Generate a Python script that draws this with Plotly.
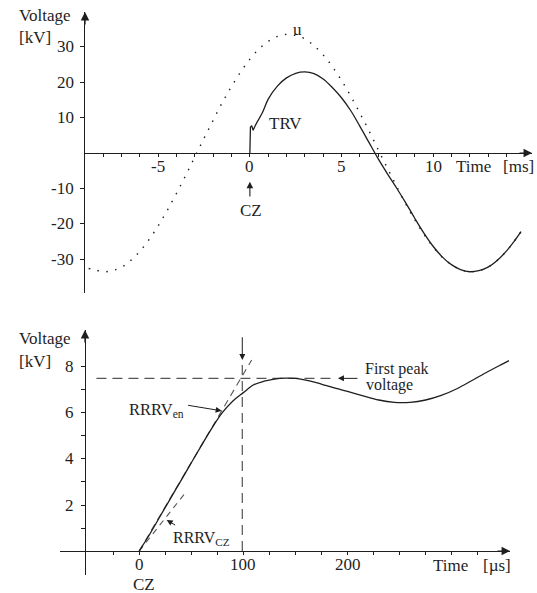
import plotly.graph_objects as go

# ---- upper panel: power-frequency voltage u and the TRV (time in ms, voltage in kV)
t_u_ms = [-8.8, -8.5, -8.0, -7.5, -7.0, -6.5, -6.0, -5.5, -5.0, -4.5, -4.0, -3.5,
          -3.0, -2.5, -2.0, -1.5, -1.0, -0.5, 0.0, 0.5, 1.0, 1.5, 2.0, 2.5, 3.0,
          3.5, 4.0, 4.5, 5.0, 5.5, 6.0, 6.5, 7.0, 7.5, 8.0, 8.5, 9.0, 9.5, 10.0,
          10.5, 11.0, 11.5, 12.0, 12.5, 13.0, 13.5, 14.0, 14.5, 14.8]
u_kv = [-32.6, -32.9, -33.5, -33.2, -32.2, -30.3, -27.7, -24.4, -20.5, -16.1, -11.3, -6.3,
        -1.0, 4.2, 9.3, 14.3, 18.8, 22.9, 26.5, 29.4, 31.5, 32.9, 33.5, 33.2, 32.2,
        30.3, 27.7, 24.4, 20.5, 16.1, 11.3, 6.3, 1.0, -4.2, -9.3, -14.3, -18.8, -22.9, -26.5,
        -29.4, -31.5, -32.9, -33.5, -33.2, -32.2, -30.3, -27.7, -24.4, -22.2]

t_trv_ms = [0.0, 0.03, 0.1, 0.18, 0.27, 0.4, 0.7, 1.0, 1.5, 2.0, 2.5, 3.0, 3.5, 4.0,
            4.5, 5.0, 5.5, 6.0, 6.5, 7.0, 7.5, 8.0, 8.5, 9.0, 9.5, 10.0, 10.5, 11.0,
            11.5, 12.0, 12.5, 13.0, 13.5, 14.0, 14.5, 14.8]
trv_kv = [0.0, 7.3, 7.7, 6.4, 7.5, 8.8, 11.6, 15.2, 18.9, 21.2, 22.5, 22.9, 22.4, 20.9,
          18.5, 15.6, 12.0, 7.6, 3.0, -1.6, -5.8, -9.8, -14.0, -18.4, -22.6, -26.3, -29.3,
          -31.5, -32.9, -33.5, -33.2, -32.2, -30.3, -27.7, -24.4, -22.2]
n_wiggle = 6  # points of the step and ripple right after current zero

# ---- lower panel: initial TRV (time in µs, voltage in kV)
t_us = [0, 10, 20, 30, 40, 50, 60, 70, 80, 90, 100, 110, 120, 130, 140, 150, 160,
        170, 180, 190, 200, 215, 230, 245, 260, 275, 290, 305, 320, 335, 350, 355]
trv_us_kv = [0.0, 0.72, 1.5, 2.28, 3.05, 3.83, 4.6, 5.35, 6.02, 6.52, 6.88, 7.22, 7.38,
             7.47, 7.51, 7.5, 7.42, 7.31, 7.18, 7.05, 6.93, 6.74, 6.56, 6.46, 6.46, 6.56,
             6.76, 7.05, 7.42, 7.8, 8.15, 8.27]

first_peak_kv = 7.5
first_peak_line_t = [-41, 185]
t_marker_us = 99
t_marker_kv = [0, 8.3]
rrrv_en_t = [0, 108]
rrrv_en_kv = [0, 8.3]
rrrv_cz_t = [0, 43.5]
rrrv_cz_kv = [0, 2.48]

# ---- ticks and tick labels
top_xticks = list(range(-8, 15))
top_xlabels = {-5: "-5", 0: "0", 5: "5", 10: "10"}
top_yticks = [-30, -20, -10, 10, 20, 30]
top_ylabels = {-30: "-30", -20: "-20", -10: "-10", 10: "10", 20: "20", 30: "30"}
bot_xticks = list(range(-25, 326, 25))
bot_xlabels = {0: "0", 100: "100", 200: "200"}
bot_yticks = [1, 2, 3, 4, 5, 6, 7, 8]
bot_ylabels = {2: "2", 4: "4", 6: "6", 8: "8"}

W, H = 537, 593
FONT = "Liberation Serif, Times New Roman, serif"
INK = "#1e1e1e"
DASH_C = "#555555"


def fx(px):
    return px / W


def fy(py):
    return 1 - py / H


def at_value(dom, rng, v):
    return dom[0] + (v - rng[0]) / (rng[1] - rng[0]) * (dom[1] - dom[0])


top_xdom, top_xr = [fx(85), fx(532)], [-9.0, 15.4]
top_ydom, top_yr = [fy(293), fy(12)], [-39.5, 39.8]
bot_xdom, bot_xr = [fx(60), fx(510)], [-76.0, 356.0]
bot_ydom, bot_yr = [fy(575), fy(330)], [-1.04, 9.6]

fig = go.Figure()

# upper panel curves
fig.add_trace(go.Scatter(x=t_u_ms, y=u_kv, mode="lines", line_shape="spline",
                         line=dict(color=INK, width=1.4, dash="1.5px,7.5px"),
                         xaxis="x", yaxis="y"))
fig.add_trace(go.Scatter(x=t_trv_ms[:n_wiggle], y=trv_kv[:n_wiggle], mode="lines",
                         line=dict(color=INK, width=1.3), xaxis="x", yaxis="y"))
fig.add_trace(go.Scatter(x=t_trv_ms[n_wiggle - 1:], y=trv_kv[n_wiggle - 1:], mode="lines",
                         line_shape="spline", line=dict(color=INK, width=1.3),
                         xaxis="x", yaxis="y"))

# lower panel: construction lines then the TRV curve
dash_style = dict(color=DASH_C, width=1.2, dash="10px,6px")
fig.add_trace(go.Scatter(x=first_peak_line_t, y=[first_peak_kv, first_peak_kv], mode="lines",
                         line=dash_style, xaxis="x2", yaxis="y2"))
fig.add_trace(go.Scatter(x=[t_marker_us, t_marker_us], y=t_marker_kv, mode="lines",
                         line=dash_style, xaxis="x2", yaxis="y2"))
fig.add_trace(go.Scatter(x=rrrv_en_t, y=rrrv_en_kv, mode="lines",
                         line=dict(color=DASH_C, width=1.1, dash="7px,5px"),
                         xaxis="x2", yaxis="y2"))
fig.add_trace(go.Scatter(x=rrrv_cz_t, y=rrrv_cz_kv, mode="lines",
                         line=dict(color=DASH_C, width=1.1, dash="6px,5px"),
                         xaxis="x2", yaxis="y2"))
fig.add_trace(go.Scatter(x=t_us, y=trv_us_kv, mode="lines", line_shape="spline",
                         line=dict(color=INK, width=1.3), xaxis="x2", yaxis="y2"))

axis_common = dict(showgrid=False, zeroline=False, showline=True, linecolor=INK,
                   linewidth=1.3, ticks="outside", tickcolor=INK, tickwidth=1,
                   showticklabels=False, fixedrange=True)

top_xpos = at_value(top_ydom, top_yr, 0)
bot_xpos = at_value(bot_ydom, bot_yr, 0)
bot_ypos = at_value(bot_xdom, bot_xr, -52)

fig.update_layout(
    width=W, height=H, margin=dict(l=0, r=0, t=0, b=0),
    paper_bgcolor="white", plot_bgcolor="white", showlegend=False,
    xaxis=dict(domain=top_xdom, range=top_xr, anchor="free", position=top_xpos,
               tickmode="array", tickvals=top_xticks, ticklen=3, **axis_common),
    yaxis=dict(domain=top_ydom, range=top_yr, anchor="x",
               tickmode="array", tickvals=top_yticks, ticklen=4, **axis_common),
    xaxis2=dict(domain=bot_xdom, range=bot_xr, anchor="free", position=bot_xpos,
                tickmode="array", tickvals=bot_xticks, ticklen=3, **axis_common),
    yaxis2=dict(domain=bot_ydom, range=bot_yr, anchor="free", position=bot_ypos,
                tickmode="array", tickvals=bot_yticks, ticklen=4, **axis_common),
)

ann = []
font17 = dict(family=FONT, size=17, color=INK)


def text_px(s, x, y, size=17, xanchor="center"):
    ann.append(dict(text=s, x=fx(x), y=fy(y), xref="paper", yref="paper",
                    xanchor=xanchor, yanchor="middle", showarrow=False,
                    font=dict(family=FONT, size=size, color=INK)))


def arrow_data(xr, yr, tip, tail, width=1.1, size=1.2, color=INK):
    ann.append(dict(text="", x=tip[0], y=tip[1], ax=tail[0], ay=tail[1],
                    xref=xr, yref=yr, axref=xr, ayref=yr, showarrow=True,
                    arrowhead=2, arrowsize=size, arrowwidth=width, arrowcolor=color,
                    standoff=0, startstandoff=0))


def arrow_paper(tip_px, dx, dy):
    ann.append(dict(text="", x=fx(tip_px[0]), y=fy(tip_px[1]), ax=dx, ay=dy,
                    xref="paper", yref="paper", showarrow=True, arrowhead=2,
                    arrowsize=1.3, arrowwidth=1.3, arrowcolor=INK, standoff=0))


# tick labels placed on the axes' own scales
for v, s in top_xlabels.items():
    ann.append(dict(text=s, x=v, y=fy(167), xref="x", yref="paper", showarrow=False,
                    xanchor="center", yanchor="middle", font=font17))
for v, s in top_ylabels.items():
    ann.append(dict(text=s, x=fx(76), y=v, xref="paper", yref="y", showarrow=False,
                    xanchor="right", yanchor="middle", font=font17))
for v, s in bot_xlabels.items():
    ann.append(dict(text=s, x=v, y=fy(564), xref="x2", yref="paper", showarrow=False,
                    xanchor="center", yanchor="middle", font=font17))
for v, s in bot_ylabels.items():
    ann.append(dict(text=s, x=fx(76), y=v, xref="paper", yref="y2", showarrow=False,
                    xanchor="right", yanchor="middle", font=font17))

# axis end arrows
arrow_paper((85, 12), 0, 14)
arrow_paper((532, (1 - top_xpos) * H), -14, 0)
arrow_paper((85, 330), 0, 14)
arrow_paper((510, (1 - bot_xpos) * H), -14, 0)

# upper panel labels
text_px("Voltage", 17, 16, xanchor="left")
text_px("[kV]", 17, 37, xanchor="left")
text_px("u", 297, 29)
text_px("TRV", 285, 123)
text_px("Time", 473, 167)
text_px("[ms]", 518, 167)
text_px("CZ", 251, 210)
arrow_data("x", "y", (0, -8.1), (0, -12.7))

# lower panel labels
text_px("Voltage", 17, 338, xanchor="left")
text_px("[kV]", 17, 361, xanchor="left")
text_px("RRRV<sub>en</sub>", 127, 410, size=16.5, xanchor="left")
arrow_data("x2", "y2", (79.2, 6.09), (45.6, 6.34), width=1.0)
text_px("RRRV<sub>CZ</sub>", 171, 538, size=16, xanchor="left")
arrow_data("x2", "y2", (26.4, 1.35), (36.0, 1.09), width=1.0)
text_px("First peak", 363, 369, size=16, xanchor="left")
text_px("voltage", 364, 385, size=16, xanchor="left")
arrow_data("x2", "y2", (190.8, first_peak_kv), (211, first_peak_kv), width=1.0)
arrow_data("x2", "y2", (t_marker_us, t_marker_kv[1]), (t_marker_us, 9.35), width=1.0)
text_px("Time", 450, 565)
text_px("[µs]", 497, 565)
text_px("CZ", 143.5, 584)

fig.update_layout(annotations=ann)
fig.write_html("out.html")
